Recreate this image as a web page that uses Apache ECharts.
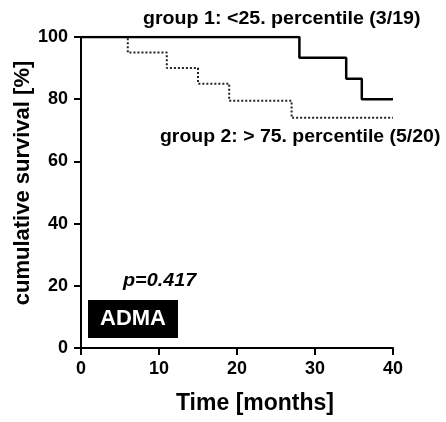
<!DOCTYPE html>
<html>
<head>
<meta charset="utf-8">
<script src="https://cdn.jsdelivr.net/npm/echarts@6/dist/echarts.min.js"></script>
<style>
  html, body { margin: 0; padding: 0; background: #fff; }
  #chart { width: 446px; height: 422px; }
</style>
</head>
<body>
<div id="chart"></div>
<script>
// Kaplan-Meier curves (months, % survival)
const group1 = [[0, 100], [28, 93.3], [34, 86.6], [36, 80], [40, 80]];
const group2 = [[0, 100], [6, 95], [11, 90], [15, 85], [19, 79.5], [27, 74], [40, 74]];
const xTicks = [0, 10, 20, 30, 40];
const yTicks = [0, 20, 40, 60, 80, 100];

const font = "'Liberation Sans', Arial, sans-serif";
const boldText = (text, size, extra) =>
  Object.assign({ text, fontFamily: font, fontWeight: "bold", fontSize: size, fill: "#000" }, extra || {});

const chart = echarts.init(document.getElementById("chart"));

chart.setOption({
  animation: false,
  grid: { left: 81, right: 53, top: 37, bottom: 74 },
  xAxis: {
    type: "value",
    min: xTicks[0],
    max: xTicks[xTicks.length - 1],
    interval: 10,
    axisLine: { lineStyle: { color: "#000", width: 2 } },
    axisTick: { show: true, length: 7, lineStyle: { color: "#000", width: 2 } },
    axisLabel: { fontFamily: font, fontWeight: "bold", fontSize: 18, color: "#000", margin: 12 },
    splitLine: { show: false },
  },
  yAxis: {
    type: "value",
    min: yTicks[0],
    max: yTicks[yTicks.length - 1],
    interval: 20,
    axisLine: { lineStyle: { color: "#000", width: 2 } },
    axisTick: { show: true, length: 7, lineStyle: { color: "#000", width: 2 } },
    axisLabel: { fontFamily: font, fontWeight: "bold", fontSize: 18, color: "#000", margin: 13 },
    splitLine: { show: false },
  },
  series: [
    {
      name: "group 2",
      type: "line",
      step: "end",
      data: group2,
      showSymbol: false,
      lineStyle: { color: "#222", width: 2, type: "dotted" },
    },
    {
      name: "group 1",
      type: "line",
      step: "end",
      data: group1,
      showSymbol: false,
      lineStyle: { color: "#000", width: 2.5 },
    },
  ],
  graphic: [
    // axis titles
    {
      type: "text", x: 23, y: 183, rotation: Math.PI / 2,
      style: boldText("cumulative survival [%]", 22, { align: "center", verticalAlign: "middle" }),
    },
    {
      type: "text", x: 255, y: 404,
      style: boldText("Time [months]", 23, { align: "center", verticalAlign: "middle" }),
    },
    // annotations
    {
      type: "text", x: 143, y: 19, scaleX: 1.09,
      style: boldText("group 1: <25. percentile (3/19)", 18, { verticalAlign: "middle" }),
    },
    {
      type: "text", x: 160, y: 137, scaleX: 1.08,
      style: boldText("group 2: > 75. percentile (5/20)", 18, { verticalAlign: "middle" }),
    },
    {
      type: "text", x: 123, y: 281, scaleX: 1.1,
      style: boldText("p=0.417", 18, { fontStyle: "italic", verticalAlign: "middle" }),
    },
    {
      type: "group", left: 88, top: 300,
      children: [
        { type: "rect", shape: { x: 0, y: 0, width: 90, height: 38 }, style: { fill: "#000" } },
        {
          type: "text", x: 45, y: 19,
          style: boldText("ADMA", 22, { fill: "#fff", align: "center", verticalAlign: "middle" }),
        },
      ],
    },
  ],
});
</script>
</body>
</html>
